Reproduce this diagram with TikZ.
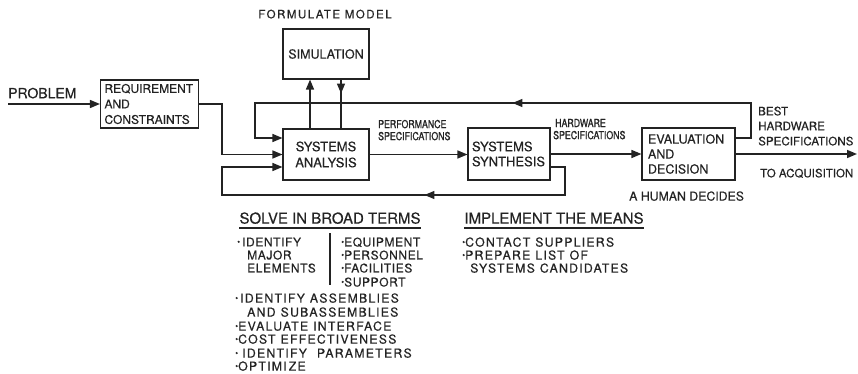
\documentclass[tikz,border=0pt]{standalone}
\usepackage{fontspec}
\setmainfont{TeX Gyre Heros}[FakeBold=0.4]
\newfontfamily\lsfont{TeX Gyre Heros}[LetterSpace=5,FakeBold=0.5]
\newfontfamily\lsbfont{TeX Gyre Heros}[LetterSpace=10,FakeBold=0.5]
\newfontfamily\wsfont{TeX Gyre Heros}[LetterSpace=13,FakeBold=0.4]
\newfontfamily\condfont{TeX Gyre Heros}[FakeStretch=0.8,FakeBold=1.2]
\usetikzlibrary{arrows.meta,decorations.markings}
\definecolor{inkc}{RGB}{35,35,35}
\newcommand{\wsp}{\hspace{5pt}}
\newcommand{\bul}{\raisebox{1.6pt}{\fontsize{8.5}{8}\selectfont •}}
\begin{document}
\begin{tikzpicture}[x=1pt,y=-1pt,
  wire/.style={line width=1.5pt, draw=inkc},
  arr/.style={wire, -{Triangle[length=10pt,width=8pt]}},
  midarr/.style={postaction={decorate}, decoration={markings, mark=at position #1 with {\arrow{Triangle[length=10pt,width=8pt]}}}},
  blk/.style={draw=inkc, line width=1.1pt, inner sep=0pt, text=inkc, font=\fontsize{13}{16}\selectfont},
  lbl/.style={inner sep=0pt, text depth=0pt, anchor=west, text=inkc},
  small/.style={lbl, font=\condfont\fontsize{11}{11}\selectfont},
  mid/.style={lbl, font=\fontsize{11.6}{12}\selectfont},
  head/.style={lbl, anchor=center, font=\fontsize{15}{15}\selectfont},
  item/.style={lbl, font=\lsfont\fontsize{12}{12}\selectfont},
  itemb/.style={lbl, font=\lsbfont\fontsize{12.3}{12}\selectfont},
  uline/.style={line width=1.5pt, draw=inkc}
]
\useasboundingbox (0,0) rectangle (858,374);

% blocks
\node[blk, font=\fontsize{12}{15.5}\selectfont, text width=90pt, inner xsep=4pt, minimum height=48pt, align=left] (req) at (149.5,104) {REQUIREMENT\\AND\\CONSTRAINTS};
\node[blk, font=\fontsize{12.5}{15}\selectfont, minimum width=86pt, minimum height=50pt] (sim) at (326,54) {SIMULATION};
\node[blk, minimum width=86pt, minimum height=51pt, align=center] (ana) at (326,154.5) {SYSTEMS\\ANALYSIS};
\node[blk, text width=74pt, inner xsep=4pt, minimum height=52pt, align=left, font=\fontsize{13}{15}\selectfont] (syn) at (509,154) {SYSTEMS\\SYNTHESIS};
\node[blk, text width=81pt, inner xsep=6pt, minimum height=52pt, align=left, font=\fontsize{12.5}{15}\selectfont] (eva) at (688.5,154) {EVALUATION\\AND\\DECISION};

% coordinates
\coordinate (pin) at (8,104);
\coordinate (pout) at (857,154);

% connectors
\draw[arr] (pin) -- (req.west);
\draw[arr] (req.east) -- (222,104) -- (222,154.5) -- (ana.west);
\draw[arr, midarr=289pt] (eva.east |- 0,138) -- (751,138) -- (751,103) -- (255,103) -- (255,138) -- (ana.west |- 0,138);
\draw[arr, midarr=183pt] (syn.east |- 0,167) -- (565,167) -- (565,195) -- (222,195) -- (222,167) -- (ana.west |- 0,167);
\draw[arr] (ana.north -| 310,0) -- (sim.south -| 310,0);
\draw[wire, midarr=14pt] (sim.south -| 341,0) -- (ana.north -| 341,0);
\draw[arr] (ana.east) -- (syn.west |- ana.east);
\draw[arr] (syn.east) -- (eva.west);
\draw[arr] (eva.east) -- (pout);

% labels
\node[lbl, font=\fontsize{14}{14}\selectfont] (prob) at (8,93) {PROBLEM};
\node[lbl, anchor=center, font=\wsfont\fontsize{11.5}{11}\selectfont] (fm) at (325,14) {FORMULATE MODEL};
\node[small] (pf1) at (378,124) {PERFORMANCE};
\node[small] (pf2) at (378,136) {SPECIFICATIONS};
\node[small] (hw1) at (555,123) {HARDWARE};
\node[small] (hw2) at (553,135) {SPECIFICATIONS};
\node[mid] (bs1) at (758,111) {BEST};
\node[mid] (bs2) at (758,126) {HARDWARE};
\node[mid] (bs3) at (758,141) {SPECIFICATIONS};
\node[lbl, font=\fontsize{11.5}{12}\selectfont] (acq) at (760,173) {TO ACQUISITION};
\node[lbl, font=\fontsize{12.3}{12}\selectfont] (hum) at (629,196) {A HUMAN DECIDES};

% headings
\node[head] (h1) at (330,218) {SOLVE IN BROAD TERMS};
\draw[uline] ([yshift=-4pt]h1.south west) -- ([yshift=-4pt]h1.south east);
\node[head] (h2) at (554,218) {IMPLEMENT THE MEANS};
\draw[uline] ([yshift=-4pt]h2.south west) -- ([yshift=-4pt]h2.south east);

% lists
\node[item] (a1) at (237,242) {\bul\,IDENTIFY};
\node[item] (a2) at (247,255) {MAJOR};
\node[item] (a3) at (247,268) {ELEMENTS};
\node[item] (b1) at (341,242) {\bul EQUIPMENT};
\node[item] (b2) at (341,255) {\bul PERSONNEL};
\node[item] (b3) at (341,268) {\bul FACILITIES};
\node[item] (b4) at (341,282) {\bul SUPPORT};
\coordinate (bart) at (330,233);
\coordinate (barb) at (330,285);
\draw[line width=1.2pt, draw=inkc] (bart) -- (barb);
\node[itemb] (c1) at (235,298) {\bul\,IDENTIFY\wsp ASSEMBLIES};
\node[itemb] (c2) at (247,312) {AND\wsp SUBASSEMBLIES};
\node[itemb] (c3) at (235,326) {\bul EVALUATE\wsp INTERFACE};
\node[itemb] (c4) at (235,339) {\bul COST\wsp EFFECTIVENESS};
\node[itemb] (c5) at (235,353) {\bul\,\,IDENTIFY\wsp\wsp PARAMETERS};
\node[itemb] (c6) at (235,366) {\bul OPTIMI\,ZE};
\node[itemb] (d1) at (462,242) {\bul CONTACT\wsp SUPPLIERS};
\node[itemb] (d2) at (462,255) {\bul PREPARE\wsp LIST\wsp OF};
\node[itemb] (d3) at (470,268) {SYSTEMS\wsp CANDIDATES};
\end{tikzpicture}
\end{document}
